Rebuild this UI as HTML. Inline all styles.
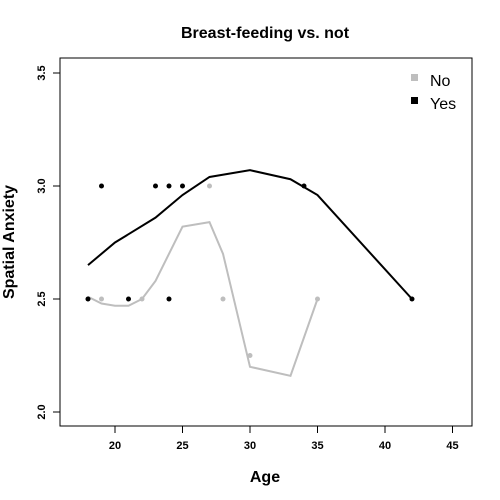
<!DOCTYPE html>
<html><head><meta charset="utf-8"><style>body{margin:0;background:#fff}svg{display:block;font-family:"Liberation Sans",sans-serif}</style></head>
<body>
<svg id="chart" width="500" height="500">
<rect x="0" y="0" width="500" height="500" fill="#fff"/>
<text x="265" y="38" text-anchor="middle" font-size="16" font-weight="bold">Breast-feeding vs. not</text>
<rect x="60" y="58" width="412" height="368" fill="none" stroke="#000"/>
<text x="265" y="482" text-anchor="middle" font-size="16" font-weight="bold">Age</text>
<text transform="translate(14,242) rotate(-90)" text-anchor="middle" font-size="16" font-weight="bold">Spatial Anxiety</text>
<g id="marks"></g>
<g>
<rect x="411" y="74" width="7" height="7" fill="#bebebe"/>
<text x="430" y="86" font-size="16">No</text>
<rect x="411" y="97" width="7" height="7" fill="#000"/>
<text x="430" y="109" font-size="16">Yes</text>
</g>
</svg>
<script>
const xTicks=[20,25,30,35,40,45];
const yTicks=[2.0,2.5,3.0,3.5];
const yesAge=[18,19,21,23,24,24,25,34,42];
const yesVal=[2.5,3.0,2.5,3.0,3.0,2.5,3.0,3.0,2.5];
const noAge=[18,19,22,27,28,30,35];
const noVal=[2.5,2.5,2.5,3.0,2.5,2.25,2.5];
const yesLineAge=[18,20,23,25,27,30,33,35,42];
const yesLineVal=[2.65,2.75,2.86,2.96,3.04,3.07,3.03,2.96,2.5];
const noLineAge=[18,19,20,21,22,23,25,27,28,30,33,35];
const noLineVal=[2.51,2.48,2.47,2.47,2.5,2.58,2.82,2.84,2.7,2.2,2.16,2.5];
const NS="http://www.w3.org/2000/svg";
const sx=v=>115+(v-20)*13.5;
const sy=v=>412-(v-2.0)*226;
const g=document.getElementById('marks');
function mk(t,a){const e=document.createElementNS(NS,t);for(const k in a)e.setAttribute(k,a[k]);g.appendChild(e);return e;}
xTicks.forEach(t=>{
 const l=mk('line',{x1:sx(t),x2:sx(t),y1:426,y2:433,stroke:'#000'});
 
 
 const tx=mk('text',{x:sx(t),y:449,'text-anchor':'middle','font-size':11,'font-weight':'bold'});tx.textContent=t;
 
 
});
yTicks.forEach(t=>{
 const l=mk('line',{x1:53,x2:60,y1:sy(t),y2:sy(t),stroke:'#000'});
 
 
 const tx=mk('text',{transform:`translate(45,${sy(t)}) rotate(-90)`,'text-anchor':'middle','font-size':11,'font-weight':'bold'});tx.textContent=t.toFixed(1);
 
 
});
function line(ax,vx,c,name){
 const p=mk('polyline',{points:ax.map((a,i)=>sx(a)+','+sy(vx[i])).join(' '),fill:'none',stroke:c,'stroke-width':2});
 
 
}
line(noLineAge,noLineVal,'#bebebe','no-smooth-line');
line(yesLineAge,yesLineVal,'#000','yes-smooth-line');
noAge.forEach((a,i)=>{const c=mk('circle',{cx:sx(a),cy:sy(noVal[i]),r:2.5,fill:'#bebebe'});
 
 });
yesAge.forEach((a,i)=>{const c=mk('circle',{cx:sx(a),cy:sy(yesVal[i]),r:2.5,fill:'#000'});
 
 });
</script>
</body></html>
